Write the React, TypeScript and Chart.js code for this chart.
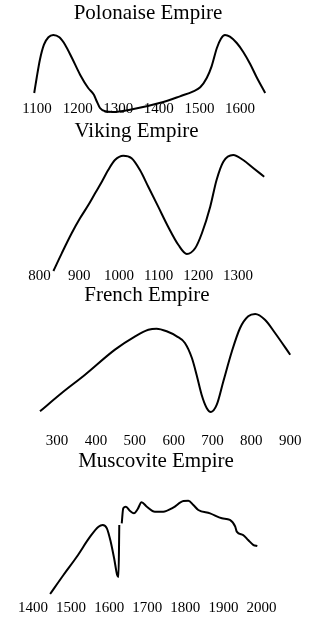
import React, { useEffect, useRef } from "react";
import { Chart, registerables } from "chart.js";

Chart.register(...registerables);

const FONT = "'Liberation Serif', 'Times New Roman', serif";

// Polonaise Empire
const polonaiseYears = [1093, 1099, 1107, 1117, 1128, 1140, 1155, 1169, 1186, 1206, 1226, 1240, 1247, 1255, 1268, 1288, 1329, 1411, 1452, 1485, 1502, 1518, 1530, 1543, 1553, 1563, 1575, 1592, 1608, 1625, 1641, 1662];
const polonaiseValues = [6.5, 30.6, 60.2, 84.4, 96.3, 100, 96.3, 84.4, 62.9, 36, 14.5, 3.7, -6.9, -17.7, -23.1, -24.2, -20.5, -8.1, 1.1, 9.2, 15.6, 30.6, 49.5, 79, 94, 100, 97.3, 87.1, 72.6, 53.2, 31.8, 6.5];
const polonaiseTicks = [1100, 1200, 1300, 1400, 1500, 1600];

// Viking Empire
const vikingYears = [835, 856, 881, 902, 923, 940, 957, 973, 990, 1011, 1032, 1053, 1074, 1099, 1124, 1150, 1171, 1192, 1209, 1230, 1246, 1263, 1288, 1313, 1339, 1366];
const vikingValues = [-6.4, 9.8, 28.2, 41.9, 54.1, 64.9, 75.5, 86.2, 95.4, 99.4, 97, 86.2, 70.9, 52.6, 34.2, 17.4, 9.2, 14.4, 28.2, 52.6, 77.1, 93.9, 100, 95.4, 87.8, 80.1];
const vikingTicks = [800, 900, 1000, 1100, 1200, 1300];

// French Empire
const frenchYears = [256, 312, 372, 449, 501, 535, 556, 582, 608, 629, 647, 659, 672, 685, 696, 711, 728, 750, 771, 792, 810, 835, 861, 900];
const frenchValues = [15.4, 31.3, 47.2, 69, 80.6, 86.3, 87.2, 85, 80.6, 74.8, 61.7, 47.2, 29.8, 18.3, 14.8, 21.1, 41.5, 67.6, 87.8, 98, 100, 95, 83.5, 64.6];
const frenchTicks = [300, 400, 500, 600, 700, 800, 900];

// Muscovite Empire (gap around 1628)
const muscoviteYears = [1445, 1480, 1515, 1550, 1572, 1583, 1594, 1604, 1613, 1621, 1624.5, 1626.6, 1628, 1633, 1637, 1644, 1655, 1665, 1675, 1685, 1699, 1720, 1742, 1768, 1795, 1808, 1821, 1834, 1865, 1896, 1917, 1931, 1935, 1952, 1965, 1979, 1989];
const muscoviteValues: (number | null)[] = [2.1, 21.9, 40.9, 61.8, 72.2, 74, 70.5, 56.6, 39.3, 21.9, 19.8, 74, null, 75.7, 91.4, 93, 88.5, 86.1, 90.6, 97.6, 93, 87.8, 87.8, 92, 99, 99.3, 94.8, 89.6, 86.1, 80.9, 79.2, 72.2, 67, 63.5, 58.3, 53.1, 52.1];
const muscoviteTicks = [1400, 1500, 1600, 1700, 1800, 1900, 2000];

const titles = ["Polonaise Empire", "Viking Empire", "French Empire", "Muscovite Empire"];

type PanelProps = {
  years: number[];
  values: (number | null)[];
  ticks: number[];
  xMin: number;
  xMax: number;
  top: number;
  height: number;
  padTop: number;
  padLeft: number;
  padRight: number;
};

function EmpireChart(p: PanelProps) {
  const ref = useRef<HTMLCanvasElement>(null);
  useEffect(() => {
    const chart = new Chart(ref.current as HTMLCanvasElement, {
      type: "line",
      data: {
        datasets: [
          {
            data: p.years.map((x, i) => ({ x, y: p.values[i] })) as any,
            borderColor: "#000",
            borderWidth: 2,
            pointRadius: 0,
            cubicInterpolationMode: "monotone",
            fill: false,
            clip: false as any,
            spanGaps: false,
          },
        ],
      },
      options: {
        responsive: false,
        animation: false,
        devicePixelRatio: 1,
        events: [],
        layout: { padding: { top: p.padTop, left: p.padLeft, right: p.padRight, bottom: 0 } },
        plugins: { legend: { display: false }, tooltip: { enabled: false }, title: { display: false } },
        scales: {
          x: {
            type: "linear",
            min: p.xMin,
            max: p.xMax,
            grid: { display: false, drawTicks: false, tickLength: 0 },
            border: { display: false },
            afterBuildTicks: (axis: any) => {
              axis.ticks = p.ticks.map((v) => ({ value: v }));
            },
            ticks: {
              font: { family: FONT, size: 15 },
              color: "#000",
              padding: 3,
              maxRotation: 0,
              autoSkip: false,
              callback: (v: any) => String(v),
            },
          },
          y: { display: false, min: 0, max: 100 },
        },
      },
    });
    return () => chart.destroy();
  }, []);
  return (
    <canvas
      ref={ref}
      width={321}
      height={p.height}
      style={{ position: "absolute", left: 0, top: p.top, width: 321, height: p.height }}
    />
  );
}

function Title({ text, cx, top }: { text: string; cx: number; top: number }) {
  return (
    <div
      style={{
        position: "absolute",
        left: cx - 110,
        top,
        width: 220,
        textAlign: "center",
        fontFamily: FONT,
        fontSize: 21,
        lineHeight: "24px",
        color: "#000",
        whiteSpace: "nowrap",
        zIndex: 2,
      }}
    >
      {text}
    </div>
  );
}

export default function App() {
  return (
    <div style={{ position: "absolute", left: 0, top: 0, width: 321, height: 620, background: "#fff" }}>
      <EmpireChart years={polonaiseYears} values={polonaiseValues} ticks={polonaiseTicks} xMin={1090} xMax={1665} top={0} height={121} padTop={35} padLeft={33} padRight={54.6} />
      <EmpireChart years={vikingYears} values={vikingValues} ticks={vikingTicks} xMin={800} xMax={1370} top={117} height={171} padTop={38} padLeft={39.5} padRight={55.2} />
      <EmpireChart years={frenchYears} values={frenchValues} ticks={frenchTicks} xMin={255} xMax={900} top={281} height={172} padTop={33} padLeft={39.6} padRight={30.8} />
      <EmpireChart years={muscoviteYears} values={muscoviteValues} ticks={muscoviteTicks} xMin={1400} xMax={2000} top={447} height={173} padTop={53} padLeft={33} padRight={59.5} />
      <Title text={titles[0]} cx={148} top={0} />
      <Title text={titles[1]} cx={136.5} top={117.6} />
      <Title text={titles[2]} cx={147} top={281.6} />
      <Title text={titles[3]} cx={156} top={447.6} />
    </div>
  );
}
